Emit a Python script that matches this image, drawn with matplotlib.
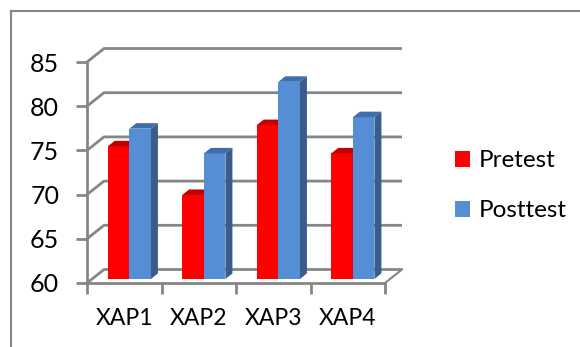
import matplotlib.pyplot as plt
from matplotlib.patches import Polygon, Patch
from matplotlib.lines import Line2D

categories = ['XAP1', 'XAP2', 'XAP3', 'XAP4']
pretest = [75.0, 69.5, 77.4, 74.2]
posttest = [77.0, 74.2, 82.3, 78.3]
yticks = [60, 65, 70, 75, 80, 85]

plt.rcParams['font.family'] = ['Lato', 'DejaVu Sans']

W, H = 580, 347
fig = plt.figure(figsize=(W / 100, H / 100), dpi=100)

# front plane of the 3-D box, in pixels
x0, x1 = 87, 385
ytop, ybot = 62, 283
ax = fig.add_axes([x0 / W, (H - ybot) / H, (x1 - x0) / W, (ybot - ytop) / H])
ax.set_xlim(0, 4)
ax.set_ylim(60, 85)

grid = '#868686'
# depth of the box in data units
dx = 17 / ((x1 - x0) / 4)
dy = 13.5 / ((ybot - ytop) / 25)

for v in yticks:
    ax.plot([0, dx, 4 + dx], [v, v + dy, v + dy], color=grid, lw=2,
            clip_on=False, zorder=1, solid_capstyle='butt')
ax.plot([4, 4 + dx], [60, 60 + dy], color=grid, lw=1.5, clip_on=False, zorder=1)

for s in ['top', 'right']:
    ax.spines[s].set_visible(False)
for s in ['left', 'bottom']:
    ax.spines[s].set_color(grid)
    ax.spines[s].set_linewidth(2)
    ax.spines[s].set_zorder(5)

ax.set_yticks(yticks)
ax.tick_params(axis='y', length=8, width=2, color=grid, pad=12, labelsize=18)
ax.set_xticks([0, 1, 2, 3, 4], minor=True)
ax.set_xticks([0.5, 1.5, 2.5, 3.5])
ax.set_xticklabels(categories)
ax.tick_params(axis='x', which='major', length=0, pad=18, labelsize=16.5)
ax.tick_params(axis='x', which='minor', length=8, width=2, color=grid)
ax.patch.set_alpha(0)


def bar3d(xl, w, v, front, top, side):
    f, d = 0.3, 0.41
    ox, oy = f * dx, f * dy
    px, py = d * dx, d * dy
    a = (xl + ox, 60 + oy)
    b = (xl + w + ox, 60 + oy)
    c = (xl + w + ox, v + oy)
    e = (xl + ox, v + oy)
    ax.add_patch(Polygon([a, b, c, e], closed=True, fc=front, ec='none',
                         clip_on=False, zorder=3))
    ax.add_patch(Polygon([e, c, (c[0] + px, c[1] + py), (e[0] + px, e[1] + py)],
                         closed=True, fc=top, ec='none', clip_on=False, zorder=3))
    ax.add_patch(Polygon([b, c, (c[0] + px, c[1] + py), (b[0] + px, b[1] + py)],
                         closed=True, fc=side, ec='none', clip_on=False, zorder=3))


bw = 0.29
for i in range(len(categories)):
    left = i + 0.21
    bar3d(left, bw, pretest[i], '#FF0000', '#C00000', '#A00000')
    bar3d(left + bw, bw, posttest[i], '#558ED5', '#3F6FAB', '#385D8A')

handles = [Patch(fc='#FF0000', ec='none'), Patch(fc='#558ED5', ec='none')]
fig.legend(handles, ['Pretest', 'Posttest'], loc='upper left',
           bbox_to_anchor=(448 / W, 1 - 143 / H), frameon=False, fontsize=17.5,
           handlelength=0.62, handleheight=0.62, handletextpad=0.33,
           labelspacing=1.2, borderaxespad=0, borderpad=0.3)

# chart area border
fig.add_artist(Line2D([11 / W, 11 / W], [0, 1 - 11 / H], color='#868686', lw=1.5))
fig.add_artist(Line2D([11 / W, 1], [1 - 11 / H, 1 - 11 / H], color='#868686', lw=1.5))

fig.savefig('out.png', dpi=100)
